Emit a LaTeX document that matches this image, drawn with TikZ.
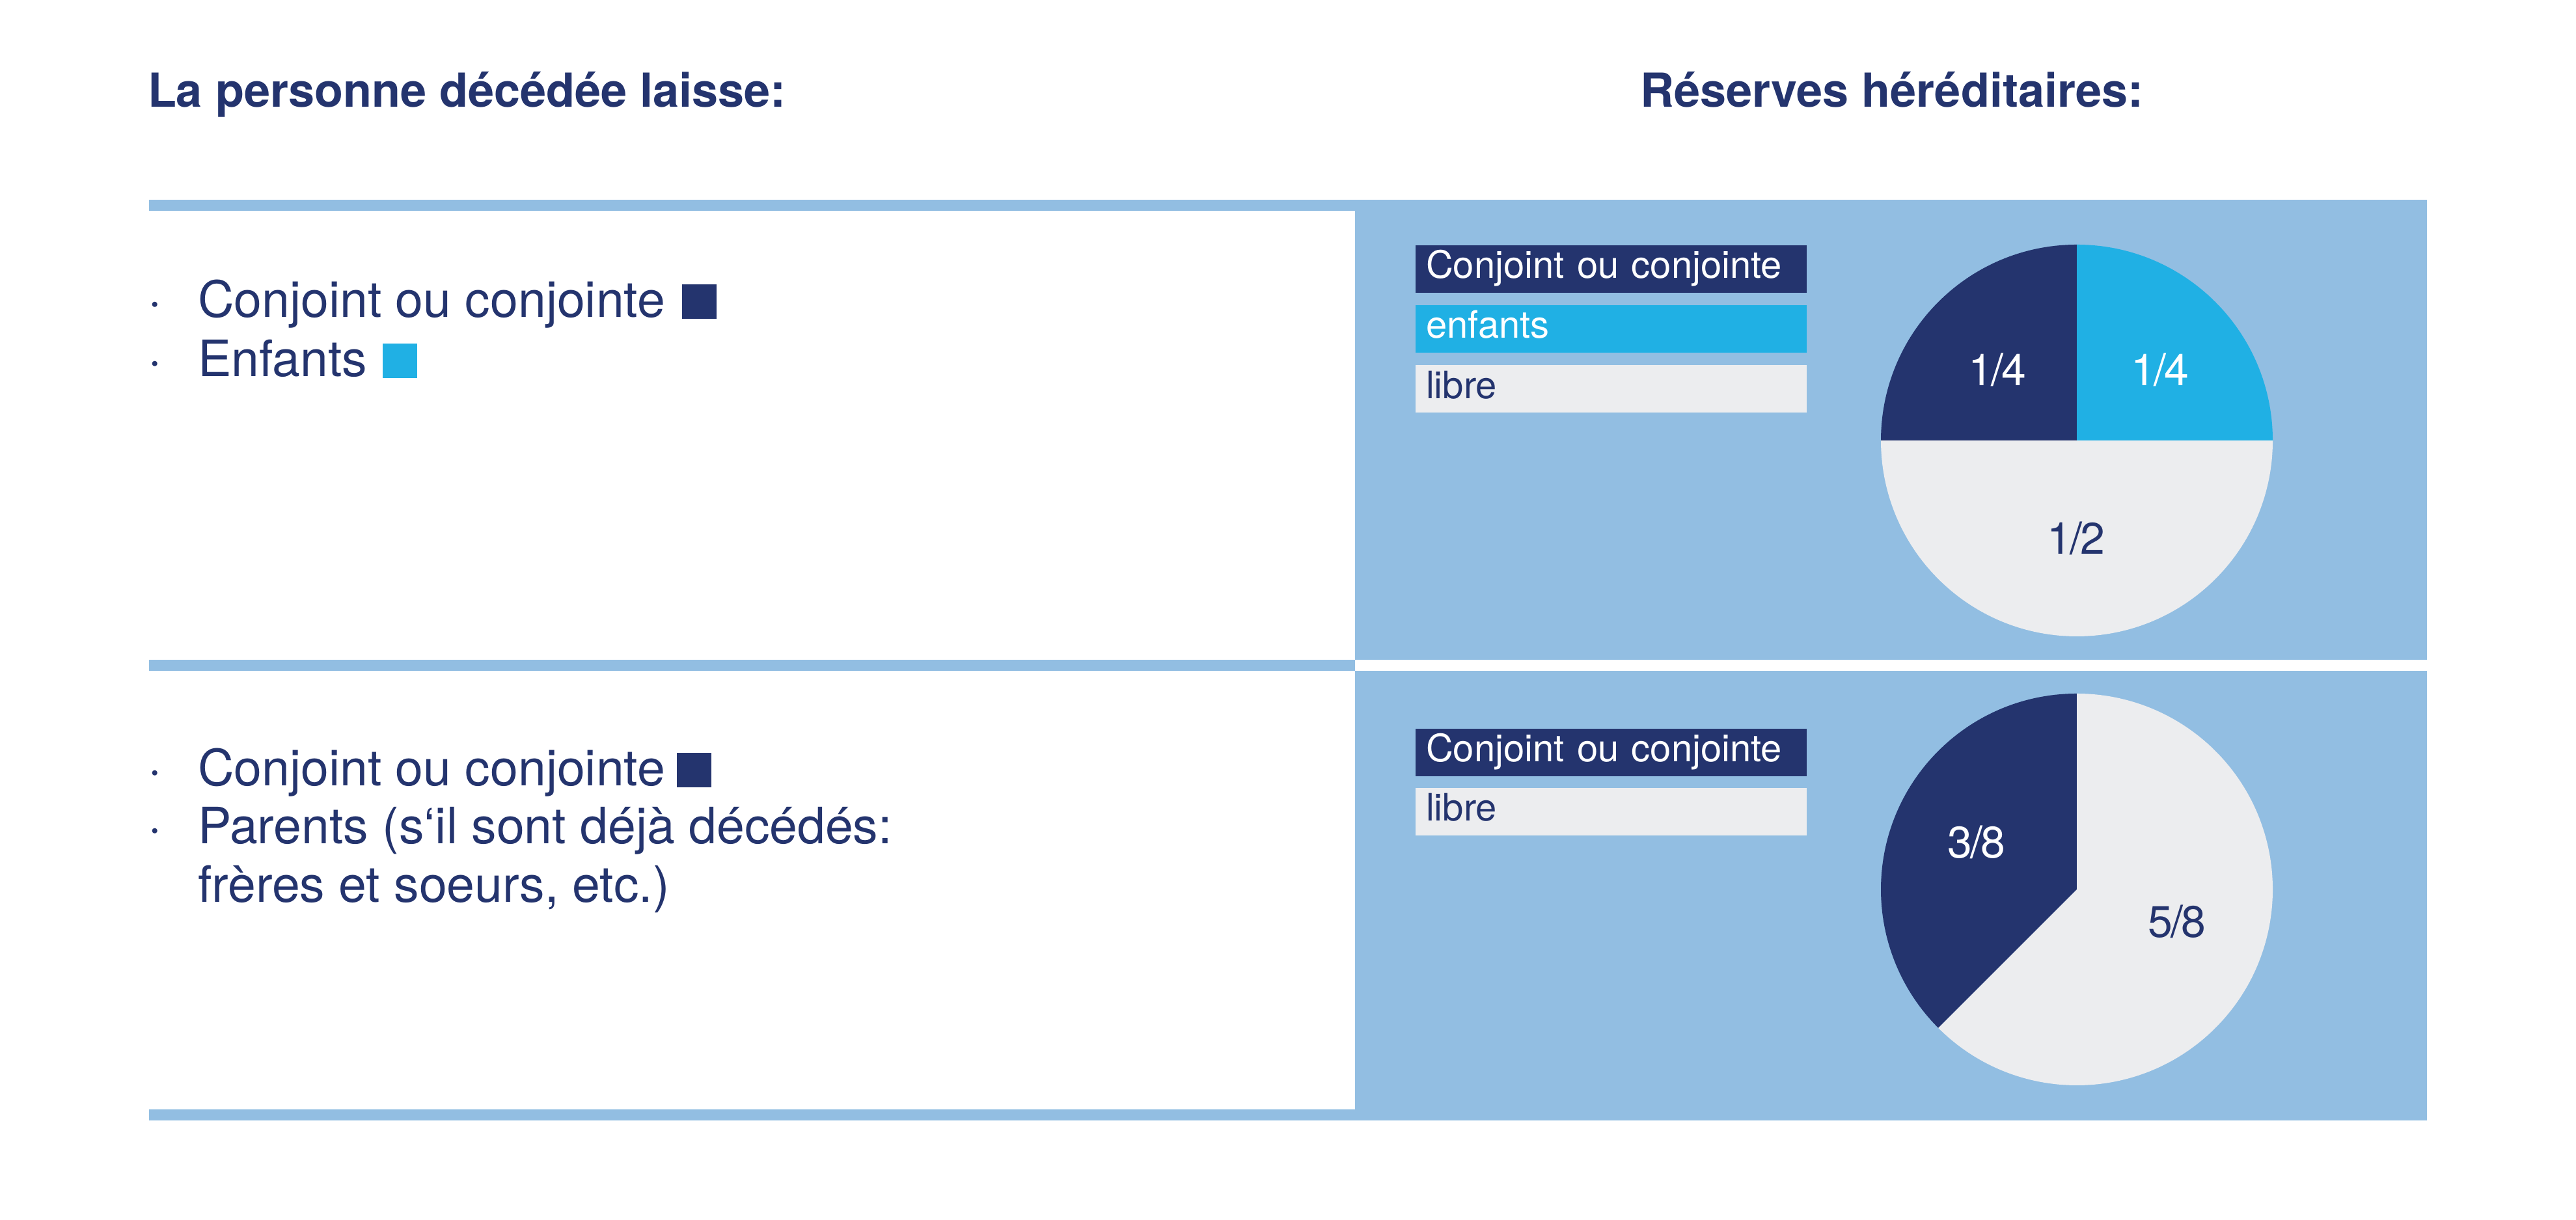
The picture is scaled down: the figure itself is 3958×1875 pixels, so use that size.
\documentclass[tikz,border=0pt]{standalone}
\usepackage{fontspec}
\setmainfont{TeX Gyre Heros}
\usetikzlibrary{positioning}
\definecolor{navy}{RGB}{36,52,110}
\definecolor{panelblue}{RGB}{146,190,226}
\definecolor{cyanpart}{RGB}{32,176,228}
\definecolor{freepart}{RGB}{236,237,239}

\begin{document}
\begin{tikzpicture}[x=0.2pt,y=0.2pt,
        head/.style={anchor=base west,inner sep=0pt,text=navy,font=\fontsize{14.4}{17}\selectfont\bfseries},
        item/.style={anchor=base west,inner sep=0pt,text=navy,font=\fontsize{15.4}{18}\selectfont},
        sq/.style={anchor=south west,fill=#1,inner sep=0pt,minimum size=10.6pt},
        legbox/.style={anchor=north west,fill=#1,inner xsep=3.2pt,inner ysep=0pt,text width=113.8pt,
            minimum height=14.6pt,text height=8.7pt,text depth=2.9pt,font=\fontsize{11.6}{14}\selectfont},
        frac/.style={inner sep=0pt,font=\fontsize{13.6}{16}\selectfont}]
            \fill[white] (0,0) rectangle (3958,1875);
            \fill[panelblue] (229,1551) rectangle (2082,1568);
            \fill[panelblue] (2082,861) rectangle (3729,1568);
            \fill[panelblue] (229,844) rectangle (2082,861);
            \fill[panelblue] (2082,153) rectangle (3729,844);
            \fill[panelblue] (229,153) rectangle (2082,170);

            \node[head] (headL) at (226,1710) {La personne décédée laisse:};
            \node[head] (headR) at (2519,1710) {Réserves héréditaires:};

            \node[item] (dotA) at (226,1387) {·};
            \node[item] (txtA) at (303,1387) {Conjoint ou conjointe};
            \node[sq=navy] (sqA) at ([shift={(24,-3)}]txtA.base east) {};
            \node[item] (dotB) at (226,1296) {·};
            \node[item] (txtB) at (303,1296) {Enfants};
            \node[sq=cyanpart] (sqB) at ([shift={(22,-3)}]txtB.base east) {};

            \node[item] (dotC) at (226,667) {·};
            \node[item] (txtC) at (303,667) {Conjoint ou conjointe};
            \node[sq=navy] (sqC) at ([shift={(16,-3)}]txtC.base east) {};
            \node[item] (dotD) at (226,578) {·};
            \node[item] (txtD) at (303,578) {Parents (s‘il sont déjà décédés:};
            \node[item] (txtE) at (303,488) {frères et soeurs, etc.)};

            \node[legbox=navy,text=white] (legA) at (2174,1499) {Conjoint ou conjointe};
            \node[legbox=cyanpart,text=white,below=3.4pt of legA] (legB) {enfants};
            \node[legbox=freepart,text=navy,below=3.5pt of legB] (legC) {libre};
            \node[legbox=navy,text=white] (legD) at (2174,756) {Conjoint ou conjointe};
            \node[legbox=freepart,text=navy,below=3.2pt of legD] (legE) {libre};

            \coordinate (pieA) at (3191,1198);
            \fill[navy] (pieA) -- ++(90:301) arc (90:180:301) -- cycle;
            \fill[cyanpart] (pieA) -- ++(0:301) arc (0:90:301) -- cycle;
            \fill[freepart] (pieA) -- ++(180:301) arc (180:360:301) -- cycle;
            \node[frac,text=white] (fracA) at ([shift={(-122,109)}]pieA) {1\kern-.6pt/\kern-.6pt4};
            \node[frac,text=white] (fracB) at ([shift={(128,109)}]pieA) {1\kern-.6pt/\kern-.6pt4};
            \node[frac,text=navy] (fracC) at ([shift={(-1,-150)}]pieA) {1\kern-.6pt/\kern-.6pt2};

            \coordinate (pieB) at (3191,508);
            \fill[navy] (pieB) -- ++(90:301) arc (90:225:301) -- cycle;
            \fill[freepart] (pieB) -- ++(225:301) arc (225:450:301) -- cycle;
            \node[frac,text=white] (fracD) at ([shift={(-154,73)}]pieB) {3\kern-.6pt/\kern-.6pt8};
            \node[frac,text=navy] (fracE) at ([shift={(154,-49)}]pieB) {5\kern-.6pt/\kern-.6pt8};
        \end{tikzpicture}
\end{document}
